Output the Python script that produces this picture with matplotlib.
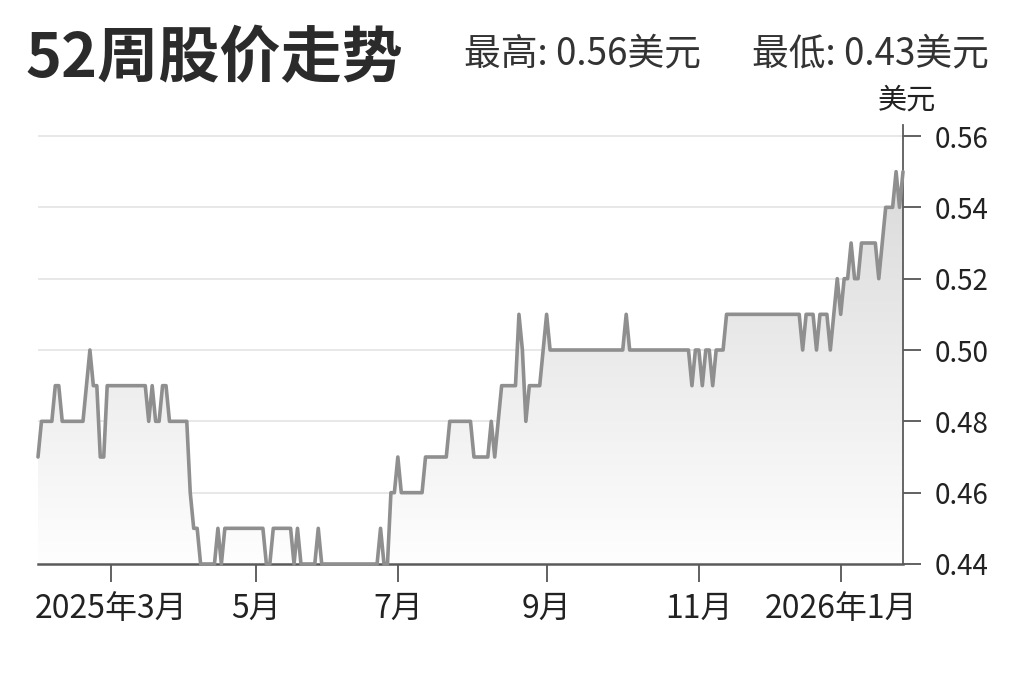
import numpy as np
import matplotlib
matplotlib.use('Agg')
import matplotlib.pyplot as plt
from matplotlib.colors import LinearSegmentedColormap

plt.rcParams['font.family'] = ['Noto Sans CJK SC', 'DejaVu Sans']

# ---- data (daily closes at turning points) ----
dates = [
    '2025-01-30', '2025-01-31', '2025-02-05', '2025-02-06', '2025-02-07', '2025-02-10',
    '2025-02-19', '2025-02-20', '2025-02-21', '2025-02-24', '2025-02-25', '2025-02-26',
    '2025-02-27', '2025-02-28', '2025-03-17', '2025-03-18', '2025-03-19', '2025-03-20',
    '2025-03-21', '2025-03-24', '2025-03-25', '2025-03-26', '2025-04-02', '2025-04-03',
    '2025-04-04', '2025-04-07', '2025-04-08', '2025-04-14', '2025-04-15', '2025-04-16',
    '2025-04-17', '2025-05-05', '2025-05-06', '2025-05-07', '2025-05-08', '2025-05-15',
    '2025-05-16', '2025-05-19', '2025-05-20', '2025-05-27', '2025-05-28', '2025-05-29',
    '2025-06-23', '2025-06-24', '2025-06-25', '2025-06-26', '2025-06-27', '2025-06-30',
    '2025-07-01', '2025-07-02', '2025-07-11', '2025-07-14', '2025-07-22', '2025-07-23',
    '2025-07-31', '2025-08-01', '2025-08-07', '2025-08-08', '2025-08-11', '2025-08-12',
    '2025-08-13', '2025-08-19', '2025-08-20', '2025-08-21', '2025-08-22', '2025-08-25',
    '2025-08-28', '2025-08-29', '2025-09-02', '2025-09-03', '2025-10-02', '2025-10-03',
    '2025-10-06', '2025-10-29', '2025-10-30', '2025-10-31', '2025-11-03', '2025-11-04',
    '2025-11-05', '2025-11-06', '2025-11-07', '2025-11-10', '2025-11-12', '2025-11-13',
    '2025-12-15', '2025-12-16', '2025-12-17', '2025-12-19', '2025-12-22', '2025-12-23',
    '2025-12-26', '2025-12-29', '2025-12-30', '2025-12-31', '2026-01-02', '2026-01-05',
    '2026-01-06', '2026-01-07', '2026-01-08', '2026-01-09', '2026-01-12', '2026-01-16',
    '2026-01-20', '2026-01-21', '2026-01-22', '2026-01-26', '2026-01-27', '2026-01-28',
    '2026-01-29',
]
prices = [
    0.47, 0.48, 0.48, 0.49, 0.49, 0.48,
    0.48, 0.49, 0.50, 0.49, 0.49, 0.47,
    0.47, 0.49, 0.49, 0.48, 0.49, 0.48,
    0.48, 0.49, 0.49, 0.48, 0.48, 0.46,
    0.45, 0.45, 0.44, 0.44, 0.45, 0.44,
    0.45, 0.45, 0.44, 0.44, 0.45, 0.45,
    0.44, 0.45, 0.44, 0.44, 0.45, 0.44,
    0.44, 0.45, 0.44, 0.44, 0.46, 0.46,
    0.47, 0.46, 0.46, 0.47, 0.47, 0.48,
    0.48, 0.47, 0.47, 0.48, 0.47, 0.48,
    0.49, 0.49, 0.51, 0.50, 0.48, 0.49,
    0.49, 0.50, 0.51, 0.50, 0.50, 0.51,
    0.50, 0.50, 0.49, 0.50, 0.50, 0.49,
    0.50, 0.50, 0.49, 0.50, 0.50, 0.51,
    0.51, 0.50, 0.51, 0.51, 0.50, 0.51,
    0.51, 0.50, 0.51, 0.52, 0.51, 0.52,
    0.52, 0.53, 0.52, 0.52, 0.53, 0.53,
    0.52, 0.53, 0.54, 0.54, 0.55, 0.54,
    0.55,
]
# US market holidays (chart axis runs over trading days)
holidays = ['2025-02-17', '2025-04-18', '2025-05-26', '2025-06-19', '2025-07-04',
            '2025-09-01', '2025-11-27', '2025-12-25', '2026-01-01', '2026-01-19']
tick_months = ['2025-03-01', '2025-05-01', '2025-07-01', '2025-09-01', '2025-11-01', '2026-01-01']
tick_labels = ['2025年3月', '5月', '7月', '9月', '11月', '2026年1月']
y_ticks = [0.44, 0.46, 0.48, 0.50, 0.52, 0.54, 0.56]

title = '52周股价走势'
high_text = '最高: 0.56美元'
low_text = '最低: 0.43美元'
unit_text = '美元'

# ---- figure ----
W, H = 1023, 682
fig = plt.figure(figsize=(W / 100, H / 100), dpi=100)
fig.patch.set_facecolor('white')

ax_left, ax_right, ax_top, ax_bottom = 38, 903, 125, 564
ax = fig.add_axes([ax_left / W, 1 - ax_bottom / H, (ax_right - ax_left) / W, (ax_bottom - ax_top) / H])

d = np.array(dates, dtype='datetime64[D]')
x = np.busday_count(d[0], d, holidays=holidays)
tick_x = np.busday_count(d[0], np.array(tick_months, dtype='datetime64[D]'), holidays=holidays)

y_min = 0.44
y_max = 0.56 + (136 - ax_top) / ((ax_bottom - 136) / 0.12)

# gradient fill under the line
cmap = LinearSegmentedColormap.from_list('fillgrad', ['#fefefe', '#d6d6d6'])
grad = np.linspace(0, 1, 256).reshape(-1, 1)
im = ax.imshow(grad, extent=[x[0], x[-1], y_min, y_max], origin='lower',
               aspect='auto', cmap=cmap, zorder=1, interpolation='bilinear')
poly = ax.fill_between(x, prices, y_min, facecolor='none', edgecolor='none')
im.set_clip_path(poly.get_paths()[0], transform=ax.transData)

ax.plot(x, prices, color='#8f8f8f', lw=2.6, solid_joinstyle='round',
        solid_capstyle='round', zorder=4, clip_on=False)

ax.set_xlim(x[0], x[-1])
ax.set_ylim(y_min, y_max)

for s in ['top', 'left']:
    ax.spines[s].set_visible(False)
ax.spines['bottom'].set_color('#5a5a5a')
ax.spines['bottom'].set_linewidth(1.8)
ax.spines['right'].set_color('#5a5a5a')
ax.spines['right'].set_linewidth(1.3)

ax.yaxis.tick_right()
ax.set_yticks(y_ticks)
ax.set_yticklabels([f'{v:.2f}' for v in y_ticks])
ax.yaxis.grid(True, color='#e6e6e6', lw=1.3)
ax.set_axisbelow(True)
ax.tick_params(axis='y', length=13, width=1.3, color='#555555', pad=10,
               labelsize=20, labelcolor='#222222')

ax.set_xticks(tick_x)
ax.set_xticklabels(tick_labels)
ax.tick_params(axis='x', length=13, width=1.3, color='#555555', pad=8,
               labelsize=23, labelcolor='#222222')

# header texts (figure pixel coordinates)
def fx(px):
    return px / W

def fy(py):
    return 1 - py / H

fig.text(fx(25), fy(59), title, fontsize=44, fontweight='bold', color='#2b2b2b',
         ha='left', va='center')
fig.text(fx(464), fy(54), high_text, fontsize=26.5, color='#333333', ha='left', va='center')
fig.text(fx(989), fy(54), low_text, fontsize=26.5, color='#333333', ha='right', va='center')
fig.text(fx(907), fy(101), unit_text, fontsize=21, color='#222222', ha='center', va='center')

fig.savefig('out.png', dpi=100, facecolor='white')
